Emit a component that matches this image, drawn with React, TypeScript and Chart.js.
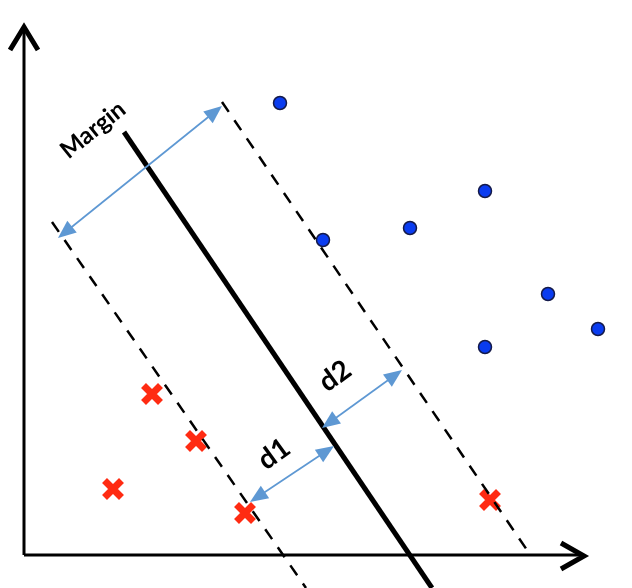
import React, { useEffect, useRef } from "react";
import { Chart, registerables } from "chart.js";

Chart.register(...registerables);

const W = 632;
const H = 588;

// Class +1 (blue dots)
const positiveX = [280, 323, 410, 485, 548, 598, 485];
const positiveY = [103, 240, 228, 191, 294, 329, 347];
// Class -1 (red crosses)
const negativeX = [152, 196, 113, 245, 490];
const negativeY = [394, 441, 489, 513, 500];

// Separating hyperplane and margin boundaries (two end points each)
const hyperplaneX = [124, 432];
const hyperplaneY = [132, 588];
const upperMarginX = [222, 527];
const upperMarginY = [102, 550];
const lowerMarginX = [52, 306];
const lowerMarginY = [222, 588];

// Axes
const yAxisX = [24, 24];
const yAxisY = [555, 28];
const yAxisHeadX = [10, 24, 38];
const yAxisHeadY = [50, 27, 50];
const xAxisX = [24, 584];
const xAxisY = [555, 555];
const xAxisHeadX = [561, 584, 561];
const xAxisHeadY = [543, 556, 569];

// Double-headed distance arrows: [x1, y1, x2, y2]
const arrowNames = ["Margin", "d2", "d1"];
const arrowX1 = [58, 322, 250];
const arrowY1 = [238, 428, 502];
const arrowX2 = [222, 402, 334];
const arrowY2 = [106, 370, 446];

// Labels
const labelTexts = ["Margin", "d2", "d1"];
const labelX = [93, 335, 274];
const labelY = [130, 376, 454];
const labelAngle = [-39, -36, -36];
const labelSize = [24, 28, 28];

const pts = (xs: number[], ys: number[]) => xs.map((x, i) => ({ x, y: ys[i] }));

const ARROW_COLOR = "#5E98D3";

const overlayPlugin = {
  id: "overlay",
  afterDatasetsDraw(chart: any) {
    const ctx = chart.ctx as CanvasRenderingContext2D;
    const xs = chart.scales.x;
    const ys = chart.scales.y;
    ctx.save();
    arrowNames.forEach((_, i) => {
      const x1 = xs.getPixelForValue(arrowX1[i]);
      const y1 = ys.getPixelForValue(arrowY1[i]);
      const x2 = xs.getPixelForValue(arrowX2[i]);
      const y2 = ys.getPixelForValue(arrowY2[i]);
      const ang = Math.atan2(y2 - y1, x2 - x1);
      const len = 18;
      const half = 7.5;
      ctx.strokeStyle = ARROW_COLOR;
      ctx.lineWidth = 1.7;
      ctx.beginPath();
      ctx.moveTo(x1 + Math.cos(ang) * len * 0.8, y1 + Math.sin(ang) * len * 0.8);
      ctx.lineTo(x2 - Math.cos(ang) * len * 0.8, y2 - Math.sin(ang) * len * 0.8);
      ctx.stroke();
      ctx.fillStyle = ARROW_COLOR;
      const head = (tx: number, ty: number, a: number) => {
        const bx = tx - Math.cos(a) * len;
        const by = ty - Math.sin(a) * len;
        ctx.beginPath();
        ctx.moveTo(tx, ty);
        ctx.lineTo(bx + Math.cos(a + Math.PI / 2) * half, by + Math.sin(a + Math.PI / 2) * half);
        ctx.lineTo(bx - Math.cos(a + Math.PI / 2) * half, by - Math.sin(a + Math.PI / 2) * half);
        ctx.closePath();
        ctx.fill();
      };
      head(x2, y2, ang);
      head(x1, y1, ang + Math.PI);
    });
    labelTexts.forEach((t, i) => {
      const x = xs.getPixelForValue(labelX[i]);
      const y = ys.getPixelForValue(labelY[i]);
      ctx.save();
      ctx.translate(x, y);
      ctx.rotate((labelAngle[i] * Math.PI) / 180);
      ctx.fillStyle = "#000";
      ctx.font = `bold ${labelSize[i]}px Lato, "Open Sans", sans-serif`;
      ctx.textAlign = "center";
      ctx.textBaseline = "middle";
      ctx.fillText(t, 0, 0);
      ctx.restore();
    });
    ctx.restore();
  },
};

export default function App() {
  const ref = useRef<HTMLCanvasElement | null>(null);
  useEffect(() => {
    if (!ref.current) return;
    const lineDs = (xs: number[], ys: number[], width: number, dash: number[] = []) => ({
      type: "line" as const,
      data: pts(xs, ys),
      showLine: true,
      borderColor: "#000",
      borderWidth: width,
      borderDash: dash,
      pointRadius: 0,
      fill: false,
      tension: 0,
    });
    const chart = new Chart(ref.current, {
      type: "scatter",
      data: {
        datasets: [
          lineDs(yAxisX, yAxisY, 3),
          lineDs(yAxisHeadX, yAxisHeadY, 5),
          lineDs(xAxisX, xAxisY, 3),
          lineDs(xAxisHeadX, xAxisHeadY, 5),
          lineDs(upperMarginX, upperMarginY, 2.5, [12, 10]),
          lineDs(lowerMarginX, lowerMarginY, 2.5, [12, 10]),
          lineDs(hyperplaneX, hyperplaneY, 5),
          {
            label: "positive",
            data: pts(positiveX, positiveY),
            pointStyle: "circle",
            pointRadius: 6.5,
            backgroundColor: "#0A3CF0",
            borderColor: "#141A4A",
            borderWidth: 1.5,
          } as any,
          {
            label: "negative",
            data: pts(negativeX, negativeY),
            pointStyle: "crossRot",
            pointRadius: 12,
            borderColor: "#FF2B12",
            backgroundColor: "#FF2B12",
            borderWidth: 7,
          } as any,
        ],
      },
      options: {
        responsive: false,
        animation: false,
        events: [],
        layout: { padding: 0, autoPadding: false },
        plugins: { legend: { display: false }, tooltip: { enabled: false } },
        scales: {
          x: { type: "linear", min: 0, max: W, display: false },
          y: { type: "linear", min: 0, max: H, reverse: true, display: false },
        },
      },
      plugins: [overlayPlugin],
    });
    return () => chart.destroy();
  }, []);
  return (
    <div style={{ position: "fixed", left: 0, top: 0, width: W, height: H, background: "#fff" }}>
      <canvas ref={ref} width={W} height={H} style={{ display: "block" }} />
    </div>
  );
}
